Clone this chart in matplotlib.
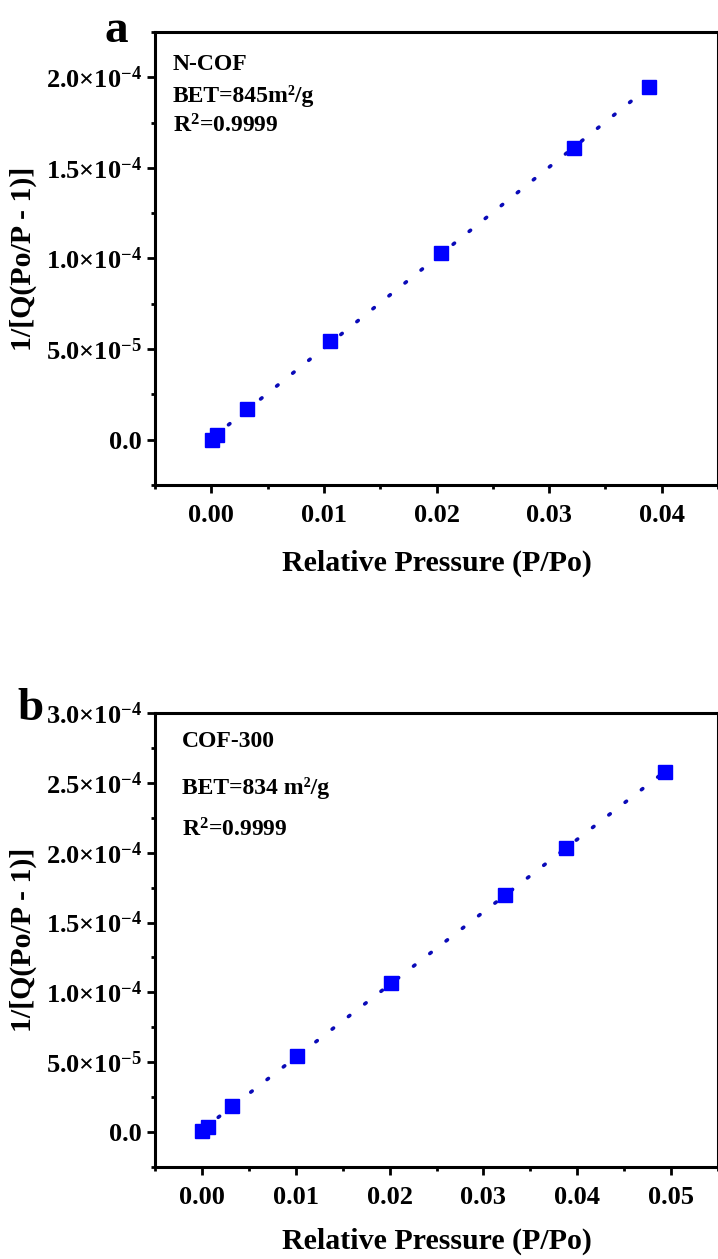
import numpy as np
import matplotlib
matplotlib.use("Agg")
import matplotlib.pyplot as plt
from matplotlib.ticker import MultipleLocator

plt.rcParams['font.family'] = ['Liberation Serif', 'DejaVu Serif']
plt.rcParams['font.weight'] = 'bold'

# =========================
# BET data (P/Po vs 1/[Q(Po/P - 1)])
# =========================
ncof_x = [0.0001, 0.0005, 0.0032, 0.0105, 0.0204, 0.0322, 0.0389]
ncof_y = [0.0, 2.5e-6, 1.72e-5, 5.43e-5, 1.03e-4, 1.61e-4, 1.945e-4]

cof300_x = [0.0, 0.0006, 0.0032, 0.0101, 0.0202, 0.0323, 0.0388, 0.0494]
cof300_y = [1.0e-6, 3.6e-6, 1.87e-5, 5.47e-5, 1.07e-4, 1.698e-4, 2.036e-4, 2.576e-4]

a_yticks = [0.0, 5e-5, 1e-4, 1.5e-4, 2e-4]
a_yticklabels = ["0.0", r"5.0×$\mathregular{10^{-5}}$", r"1.0×$\mathregular{10^{-4}}$",
                 r"1.5×$\mathregular{10^{-4}}$", r"2.0×$\mathregular{10^{-4}}$"]
a_xticks = [0.0, 0.01, 0.02, 0.03, 0.04]
a_xticklabels = ["0.00", "0.01", "0.02", "0.03", "0.04"]

b_yticks = [0.0, 5e-5, 1e-4, 1.5e-4, 2e-4, 2.5e-4, 3e-4]
b_yticklabels = ["0.0", r"5.0×$\mathregular{10^{-5}}$", r"1.0×$\mathregular{10^{-4}}$",
                 r"1.5×$\mathregular{10^{-4}}$", r"2.0×$\mathregular{10^{-4}}$",
                 r"2.5×$\mathregular{10^{-4}}$", r"3.0×$\mathregular{10^{-4}}$"]
b_xticks = [0.0, 0.01, 0.02, 0.03, 0.04, 0.05]
b_xticklabels = ["0.00", "0.01", "0.02", "0.03", "0.04", "0.05"]

a_notes = ["N-COF", "BET=845m\u00b2/g", r"R$\mathregular{^2}$=0.9999"]
b_notes = ["COF-300", "BET=834 m\u00b2/g", r"R$\mathregular{^2}$=0.9999"]

xlab = "Relative Pressure (P/Po)"
ylab = "1/[Q(Po/P - 1)]"

# =========================
# Figure
# =========================
fig = plt.figure(figsize=(7.18, 12.59), dpi=100)
ax_a = fig.add_axes([0.2159, 0.6148, 0.7841, 0.3598])
ax_b = fig.add_axes([0.2159, 0.0731, 0.7841, 0.3606])


def bet_panel(ax, x, y, xlim, ylim, xt, xtl, yt, ytl, notes, note_y, note_x):
    x = np.asarray(x)
    y = np.asarray(y)
    # linear fit drawn as dotted line
    k, b = np.polyfit(x, y, 1)
    xf = np.array([x.min(), x.max()])
    ax.plot(xf, k * xf + b, color='#0A0AB8', lw=2.6,
            linestyle=(0, (0.5, 5.2)), dash_capstyle='round', zorder=2)
    ax.plot(x, y, 's', color='#0000FF', markersize=9.4, zorder=3)

    ax.set_xlim(*xlim)
    ax.set_ylim(*ylim)
    ax.set_xticks(xt)
    ax.set_xticklabels(xtl)
    ax.set_yticks(yt)
    ax.set_yticklabels(ytl)
    ax.xaxis.set_minor_locator(MultipleLocator(0.005))
    ax.yaxis.set_minor_locator(MultipleLocator(2.5e-5))

    ax.tick_params(which='major', direction='out', length=6, width=2,
                   labelsize=19, top=False, right=False)
    ax.tick_params(axis='y', which='major', pad=3.5)
    ax.tick_params(axis='x', which='major', pad=8)
    ax.tick_params(which='minor', direction='out', length=3, width=2,
                   top=False, right=False)
    for lab in ax.get_xticklabels() + ax.get_yticklabels():
        lab.set_fontweight('bold')
    for sp in ax.spines.values():
        sp.set_linewidth(2.2)

    ax.set_xlabel(xlab, fontsize=21.5, fontweight='bold')
    ax.set_ylabel(ylab, fontsize=21.5, fontweight='bold')
    ax.yaxis.set_label_coords(-0.21, 0.5)

    for txt, yy in zip(notes, note_y):
        ax.text(note_x, yy, txt, transform=ax.transAxes, fontsize=17,
                fontweight='bold', va='baseline', ha='left')


bet_panel(ax_a, ncof_x, ncof_y, (-0.005, 0.045), (-2.5e-5, 2.25e-4),
          a_xticks, a_xticklabels, a_yticks, a_yticklabels,
          a_notes, [0.916, 0.845, 0.777], 0.032)
ax_a.xaxis.set_label_coords(0.5, -0.142)

bet_panel(ax_b, cof300_x, cof300_y, (-0.005, 0.055), (-2.5e-5, 3.0e-4),
          b_xticks, b_xticklabels, b_yticks, b_yticklabels,
          b_notes, [0.925, 0.822, 0.729], 0.048)
ax_b.xaxis.set_label_coords(0.5, -0.133)

# panel letters
fig.text(0.1462, 0.9666, "a", fontsize=34, fontweight='bold', va='baseline', ha='left')
fig.text(0.0237, 0.4281, "b", fontsize=34, fontweight='bold', va='baseline', ha='left')

fig.savefig("out.png", dpi=100)
